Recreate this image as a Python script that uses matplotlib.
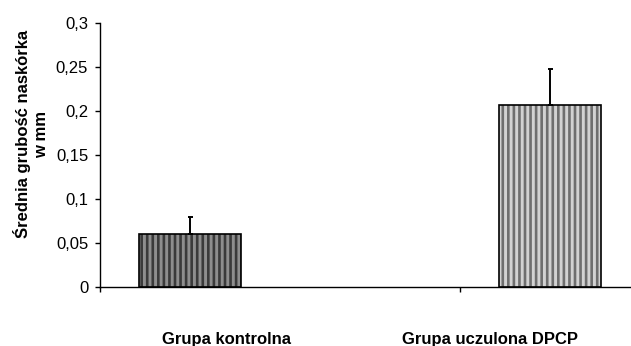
import matplotlib
matplotlib.use("Agg")
import matplotlib.pyplot as plt
import numpy as np

categories = ["Grupa kontrolna", "Grupa uczulona DPCP"]
values = [0.06, 0.207]
errors = [0.02, 0.041]
ytick_vals = [0, 0.05, 0.1, 0.15, 0.2, 0.25, 0.3]
ytick_labels = ["0", "0,05", "0,1", "0,15", "0,2", "0,25", "0,3"]
ylabel = "Średnia grubość naskórka\nw mm"

plt.rcParams['font.family'] = ['Liberation Sans', 'DejaVu Sans']
plt.rcParams['hatch.linewidth'] = 1.9

fig = plt.figure(figsize=(6.31, 3.46), dpi=100)
W, H = 631, 346
left, right, bottom, top = 100, 820, 287, 23
ax = fig.add_axes([left / W, 1 - bottom / H, (right - left) / W, (bottom - top) / H])

idx = np.arange(len(categories))
pos = idx + 0.25
width = 0.283
faces = ["#8e8e8e", "#d2d2d2"]
hatchcols = ["#3a3a3a", "#6e6e6e"]
for p, v, fc, hc in zip(pos, values, faces, hatchcols):
    ax.bar(p, v, width=width, color=fc, edgecolor=hc, hatch='|||', linewidth=0, zorder=2)
    ax.bar(p, v, width=width, facecolor='none', edgecolor='black', linewidth=1.2, zorder=3)

ax.errorbar(pos, values, yerr=[np.zeros(len(errors)), errors], fmt='none',
            ecolor='black', elinewidth=1.4, capsize=1.8, capthick=1.4, zorder=4)

ax.set_xlim(0, 2)
ax.set_ylim(0, 0.3)
ax.set_xticks([0, 1, 2])
ax.set_xticklabels([])
ax.set_yticks(ytick_vals)
ax.set_yticklabels(ytick_labels, fontsize=12)
ax.tick_params(axis='both', direction='out', length=3.5, width=1, color='black')
ax.tick_params(axis='y', pad=5)
for s in ['top', 'right']:
    ax.spines[s].set_visible(False)
for s in ['left', 'bottom']:
    ax.spines[s].set_linewidth(1)
    ax.spines[s].set_color('black')
ax.spines['bottom'].set_clip_on(False)

label_x = [227, 490]
for lx, c in zip(label_x, categories):
    fig.text(lx / W, 1 - 344 / H, c, ha='center', va='baseline', fontsize=12, fontweight='bold')

fig.text(31 / W, 1 - 134 / H, ylabel, rotation=90, ha='center', va='center',
         fontsize=12, fontweight='bold', multialignment='center', linespacing=1.25)

fig.savefig("out.png", dpi=100)
